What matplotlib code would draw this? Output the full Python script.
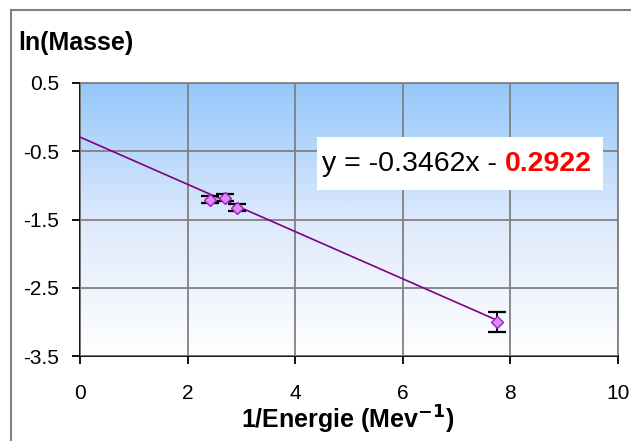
import numpy as np
import matplotlib.pyplot as plt
from matplotlib.colors import LinearSegmentedColormap

# data
inv_energy = [2.42, 2.70, 2.92, 7.75]
ln_mass = [-1.21, -1.18, -1.33, -3.00]
ln_mass_err = [0.05, 0.05, 0.05, 0.15]
slope = -0.3462
intercept = -0.2922

plt.rcParams['font.family'] = ['Liberation Sans', 'DejaVu Sans']

W, H = 631, 441
fig = plt.figure(figsize=(W / 100, H / 100), dpi=100)
# outer frame
fig.patches.append(plt.Rectangle((11 / W, -0.1), 1.5, 1.1 - 10 / H, transform=fig.transFigure,
                                 fill=False, edgecolor='#808080', linewidth=1.5))
ax = fig.add_axes([80 / W, 1 - 356 / H, 538 / W, 273 / H])

# gradient background
cmap = LinearSegmentedColormap.from_list('bg', ['#ffffff', '#dde9fb', '#95c8fb'])
grad = np.linspace(0, 1, 256).reshape(-1, 1)
ax.imshow(grad, cmap=cmap, aspect='auto', extent=[0, 1, 0, 1], transform=ax.transAxes,
          origin='lower', zorder=0)

ax.set_xlim(0, 10)
ax.set_ylim(-3.5, 0.5)
ax.set_xticks([0, 2, 4, 6, 8, 10])
ax.set_yticks([0.5, -0.5, -1.5, -2.5, -3.5])
ax.set_yticklabels(['0.5', '-0.5', '-1.5', '-2.5', '-3.5'])
ax.grid(True, color='#808080', linewidth=1.3, zorder=1)
ax.set_axisbelow(False)

xs = np.array([0, max(inv_energy)])
ax.plot(xs, slope * xs + intercept, color='#800080', linewidth=1.2, zorder=3)
ax.errorbar(inv_energy, ln_mass, yerr=ln_mass_err, fmt='D', markersize=6.5,
            markerfacecolor='#dd88ff', markeredgecolor='#a020c0', ecolor='black',
            elinewidth=1.4, capsize=6.5, capthick=1.6, zorder=4)

for s in ['left', 'bottom']:
    ax.spines[s].set_color('black')
    ax.spines[s].set_linewidth(1.3)
for s in ['top', 'right']:
    ax.spines[s].set_color('#808080')
    ax.spines[s].set_linewidth(1.3)
ax.tick_params(direction='out', length=6, width=1.3, labelsize=15)
ax.tick_params(axis='y', pad=9)
ax.tick_params(axis='x', pad=14)

fig.text(18 / W, 1 - 43 / H, 'ln(Masse)', fontsize=18, fontweight='bold', va='center')
fig.text(348 / W, 1 - 420 / H, '1/Energie (Mev$^{\\mathbf{-1}}$)', fontsize=18,
         fontweight='bold', va='center', ha='center')

# equation box
ax.add_patch(plt.Rectangle((317 / W, 1 - 190 / H), 286 / W, 53 / H, transform=fig.transFigure,
                           facecolor='white', edgecolor='none', zorder=5, clip_on=False))
t1 = ax.text(322 / W, 1 - 164 / H, 'y = -0.3462x - ', transform=fig.transFigure,
             fontsize=20.5, va='center', zorder=6)
ax.annotate('0.2922', xy=(1, 0.5), xycoords=t1, va='center', ha='left', fontsize=20.5,
            color='red', fontweight='bold', annotation_clip=False, zorder=6)

fig.savefig('out.png', dpi=100)
